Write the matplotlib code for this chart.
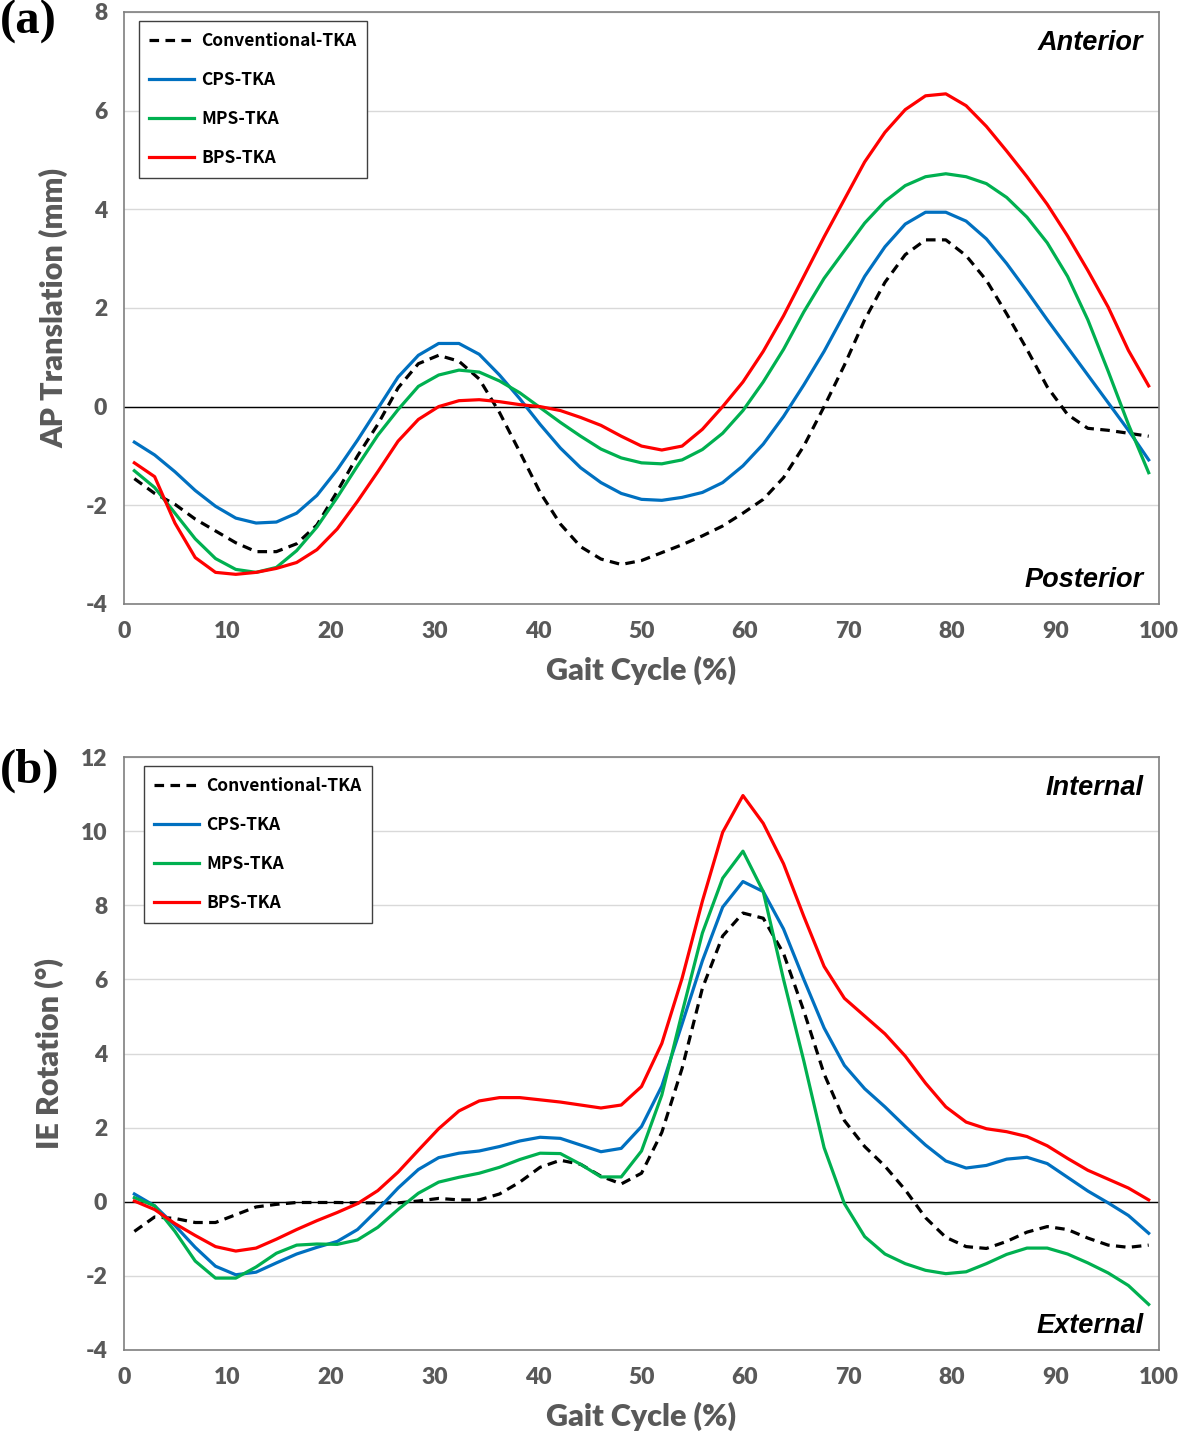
import numpy as np
import matplotlib
matplotlib.use('Agg')
import matplotlib.pyplot as plt

plt.rcParams['axes.unicode_minus'] = False

# 步态周期 (%), 51 个采样点
gait = np.linspace(1, 99, 51)

# (a) AP translation (mm)
ap_conv = [-1.46, -1.76, -1.98, -2.28, -2.52, -2.76, -2.94, -2.94, -2.78, -2.40,
           -1.72, -1.00, -0.36, 0.38, 0.87, 1.04, 0.92, 0.56, -0.12, -0.92,
           -1.74, -2.38, -2.84, -3.09, -3.20, -3.12, -2.96, -2.80, -2.62, -2.42,
           -2.16, -1.88, -1.44, -0.80, 0.00, 0.84, 1.76, 2.52, 3.08, 3.38,
           3.38, 3.06, 2.56, 1.88, 1.16, 0.40, -0.16, -0.44, -0.48, -0.54, -0.60]
ap_cps = [-0.72, -0.98, -1.32, -1.70, -2.02, -2.26, -2.36, -2.34, -2.16, -1.80,
          -1.28, -0.68, -0.04, 0.60, 1.04, 1.28, 1.28, 1.06, 0.64, 0.16,
          -0.36, -0.84, -1.24, -1.54, -1.76, -1.88, -1.90, -1.84, -1.74, -1.54,
          -1.20, -0.76, -0.20, 0.44, 1.12, 1.88, 2.64, 3.24, 3.70, 3.94,
          3.94, 3.76, 3.40, 2.90, 2.34, 1.76, 1.20, 0.64, 0.08, -0.48, -1.08]
ap_mps = [-1.30, -1.64, -2.16, -2.68, -3.08, -3.30, -3.36, -3.26, -2.92, -2.44,
          -1.84, -1.20, -0.58, -0.06, 0.41, 0.64, 0.74, 0.70, 0.52, 0.28,
          -0.02, -0.32, -0.60, -0.86, -1.04, -1.14, -1.16, -1.08, -0.87, -0.54,
          -0.08, 0.50, 1.16, 1.92, 2.60, 3.16, 3.72, 4.16, 4.48, 4.66,
          4.72, 4.66, 4.52, 4.24, 3.84, 3.32, 2.64, 1.76, 0.72, -0.36, -1.34]
ap_bps = [-1.14, -1.42, -2.36, -3.06, -3.36, -3.40, -3.36, -3.28, -3.16, -2.90,
          -2.48, -1.92, -1.32, -0.70, -0.26, 0.00, 0.12, 0.14, 0.10, 0.04,
          0.00, -0.08, -0.22, -0.38, -0.60, -0.80, -0.88, -0.80, -0.46, 0.00,
          0.50, 1.12, 1.84, 2.64, 3.44, 4.20, 4.96, 5.56, 6.02, 6.30,
          6.34, 6.10, 5.68, 5.18, 4.66, 4.10, 3.46, 2.76, 2.02, 1.14, 0.42]

# (b) IE rotation (deg)
ie_conv = [-0.80, -0.41, -0.45, -0.56, -0.56, -0.35, -0.14, -0.07, -0.02, -0.02,
           -0.02, -0.03, -0.03, -0.03, 0.02, 0.09, 0.05, 0.05, 0.21, 0.53,
           0.93, 1.12, 1.01, 0.69, 0.48, 0.77, 1.87, 3.60, 5.76, 7.17,
           7.79, 7.65, 6.70, 5.15, 3.45, 2.19, 1.49, 0.96, 0.32, -0.43,
           -0.96, -1.21, -1.26, -1.07, -0.82, -0.67, -0.75, -0.98, -1.17, -1.23, -1.17]
ie_cps = [0.21, -0.11, -0.64, -1.23, -1.74, -1.97, -1.90, -1.65, -1.41, -1.23,
          -1.07, -0.75, -0.21, 0.37, 0.87, 1.19, 1.31, 1.37, 1.49, 1.64,
          1.74, 1.71, 1.53, 1.35, 1.44, 2.03, 3.12, 4.80, 6.50, 7.95,
          8.64, 8.37, 7.36, 6.00, 4.69, 3.68, 3.05, 2.56, 2.03, 1.53,
          1.10, 0.91, 0.98, 1.15, 1.20, 1.03, 0.66, 0.29, -0.03, -0.37, -0.85]
ie_mps = [0.11, -0.11, -0.80, -1.60, -2.06, -2.06, -1.76, -1.39, -1.17, -1.14,
          -1.15, -1.03, -0.69, -0.21, 0.23, 0.53, 0.66, 0.77, 0.93, 1.14,
          1.31, 1.30, 1.01, 0.67, 0.67, 1.37, 2.88, 5.10, 7.25, 8.73,
          9.46, 8.37, 6.00, 3.80, 1.46, -0.05, -0.94, -1.41, -1.67, -1.85,
          -1.94, -1.89, -1.67, -1.42, -1.25, -1.25, -1.41, -1.65, -1.92, -2.26, -2.77]
ie_bps = [0.02, -0.21, -0.59, -0.91, -1.21, -1.33, -1.25, -1.01, -0.75, -0.51,
          -0.29, -0.05, 0.30, 0.80, 1.39, 1.97, 2.45, 2.72, 2.81, 2.81,
          2.75, 2.69, 2.61, 2.53, 2.61, 3.11, 4.27, 6.03, 8.11, 9.97,
          10.96, 10.21, 9.12, 7.70, 6.35, 5.49, 5.01, 4.53, 3.93, 3.20,
          2.56, 2.15, 1.97, 1.89, 1.76, 1.51, 1.17, 0.85, 0.61, 0.37, 0.05]

labels = ['Conventional-TKA', 'CPS-TKA', 'MPS-TKA', 'BPS-TKA']
colors = ['black', '#0070C0', '#00B050', '#FF0000']
styles = ['--', '-', '-', '-']

label_font = dict(family='Lato', weight='heavy', size=22, color='#595959')

fig = plt.figure(figsize=(11.81, 14.4), dpi=100)
ax_a = fig.add_axes([0.105, 0.5806, 0.8764, 0.4111])
ax_b = fig.add_axes([0.105, 0.0625, 0.8764, 0.4118])

panels = [
    (ax_a, [ap_conv, ap_cps, ap_mps, ap_bps], (-4, 8), np.arange(-4, 9, 2),
     'AP Translation (mm)', 'Anterior', 'Posterior', (0.009, 0.993)),
    (ax_b, [ie_conv, ie_cps, ie_mps, ie_bps], (-4, 12), np.arange(-4, 13, 2),
     'IE Rotation (°)', 'Internal', 'External', (0.014, 0.993)),
]

for ax, series, ylim, yticks, ylabel, top_txt, bot_txt, leg_pos in panels:
    for ys, lab, c, ls in zip(series, labels, colors, styles):
        ax.plot(gait, ys, color=c, linestyle=ls, linewidth=2.3, label=lab,
                dashes=(3, 2) if ls == '--' else (None, None), zorder=3)
    ax.axhline(0, color='black', linewidth=1.0, zorder=2)
    ax.set_xlim(0, 100)
    ax.set_ylim(*ylim)
    ax.set_xticks(np.arange(0, 101, 10))
    ax.set_yticks(yticks)
    ax.grid(axis='y', color='#d9d9d9', linewidth=1.0, zorder=0)
    ax.tick_params(length=0, pad=12)
    for t in ax.get_xticklabels() + ax.get_yticklabels():
        t.set_fontfamily('Lato')
        t.set_fontweight('heavy')
        t.set_fontsize(16.5)
        t.set_color('#595959')
    ax.set_xlabel('Gait Cycle (%)', labelpad=10, **label_font)
    ax.set_ylabel(ylabel, labelpad=12, **label_font)
    for sp in ax.spines.values():
        sp.set_color('#7f7f7f')
        sp.set_linewidth(1.2)

    leg = ax.legend(loc='upper left', bbox_to_anchor=leg_pos,
                    prop=dict(family=['Noto Sans CJK KR', 'DejaVu Sans'], weight='bold', size=12.5),
                    handlelength=2.6, labelspacing=1.22, handletextpad=0.4,
                    borderpad=0.6, borderaxespad=0.3, fancybox=False, framealpha=1,
                    edgecolor='#404040')
    leg.get_frame().set_linewidth(1.0)

    ax.text(0.985, 0.947, top_txt, transform=ax.transAxes, ha='right', va='center',
            family='Liberation Sans', style='italic', weight='bold', size=19.5)
    ax.text(0.985, 0.041, bot_txt, transform=ax.transAxes, ha='right', va='center',
            family='Liberation Sans', style='italic', weight='bold', size=19.5)

fig.text(0.0, 0.9845, '(a)', family='Liberation Serif', weight='bold', size=35, va='center')
fig.text(0.0, 0.4645, '(b)', family='Liberation Serif', weight='bold', size=35, va='center')

plt.savefig('out.png', dpi=100)
